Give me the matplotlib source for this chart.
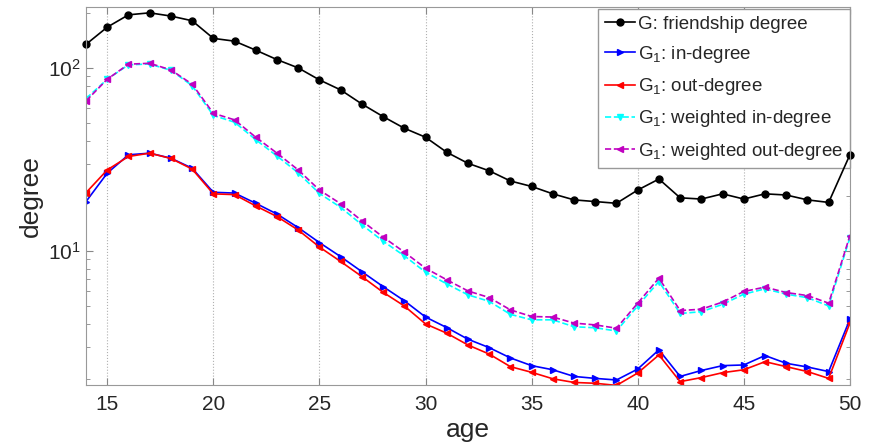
import matplotlib
matplotlib.use('Agg')
import matplotlib.pyplot as plt
from matplotlib.ticker import NullFormatter, LogLocator

plt.rcParams['font.family'] = ['Liberation Sans', 'DejaVu Sans']
plt.rcParams['mathtext.fontset'] = 'custom'
plt.rcParams['mathtext.rm'] = 'Liberation Sans'
plt.rcParams['mathtext.it'] = 'Liberation Sans:italic'
plt.rcParams['mathtext.default'] = 'regular'

# age 14..50
ages = list(range(14, 51))

friendship = [134.5, 167, 195, 200, 192, 181, 145, 140, 125, 111, 100,
              86, 75.8, 63.5, 54.2, 46.8, 41.8, 34.6, 30.1, 27.4, 24.1, 22.5,
              20.5, 19.0, 18.6, 18.2, 21.5, 24.7, 19.5, 19.2, 20.5, 19.2,
              20.5, 20.2, 19.0, 18.4, 33.5]

in_deg = [18.6, 26.6, 33.5, 34.2, 32.1, 28.3, 20.9, 20.7, 18.2, 15.9, 13.4,
          11.1, 9.3, 7.7, 6.38, 5.34, 4.35, 3.81, 3.29, 2.96, 2.6, 2.36,
          2.24, 2.06, 2.01, 1.97, 2.26, 2.88, 2.06, 2.22, 2.36, 2.38,
          2.68, 2.43, 2.32, 2.19, 4.23]

out_deg = [20.8, 27.7, 32.8, 34.2, 32.0, 28.0, 20.5, 20.3, 17.6, 15.4, 13.0,
           10.5, 8.75, 7.24, 5.94, 5.0, 3.99, 3.55, 3.06, 2.73, 2.33, 2.17,
           2.0, 1.91, 1.89, 1.84, 2.15, 2.7, 1.93, 2.03, 2.16, 2.24,
           2.48, 2.33, 2.19, 2.01, 4.03]

w_in_deg = [68, 86.7, 104, 105, 97, 80, 55, 50.5, 40.5, 33.0, 26.7,
            20.6, 17.3, 13.9, 11.3, 9.4, 7.65, 6.6, 5.75, 5.3, 4.5, 4.2,
            4.2, 3.85, 3.8, 3.65, 5.0, 6.8, 4.55, 4.65, 5.1, 5.8,
            6.2, 5.8, 5.55, 5.0, 11.8]

w_out_deg = [66, 86.7, 104.8, 106, 97.5, 81.5, 56.5, 52, 41.8, 34.2, 27.7,
             21.5, 18.1, 14.6, 11.9, 9.85, 8.04, 6.95, 6.04, 5.56, 4.76, 4.38,
             4.35, 4.03, 3.94, 3.78, 5.18, 7.1, 4.72, 4.8, 5.25, 6.0,
             6.34, 5.92, 5.7, 5.18, 12.1]

fig = plt.figure(figsize=(8.69, 4.42), dpi=100)
ax = fig.add_axes([0.099, 0.129, 0.879, 0.855])

lw = 1.2
ax.plot(ages, friendship, '-o', color='black', lw=lw, ms=5, label='G: friendship degree', clip_on=False)
ax.plot(ages, in_deg, '->', color='blue', lw=lw, ms=4.5, label='G$_1$: in-degree')
ax.plot(ages, out_deg, '-<', color='red', lw=lw, ms=4.5, label='G$_1$: out-degree')
ax.plot(ages, w_in_deg, '--v', color='cyan', lw=lw, ms=4.5, label='G$_1$: weighted in-degree')
ax.plot(ages, w_out_deg, '--<', color='#c000c0', lw=lw, ms=4.5, label='G$_1$: weighted out-degree')

ax.set_yscale('log')
ax.set_xlim(14, 50)
ax.set_ylim(1.85, 215)
ax.set_xticks(range(15, 51, 5))
ax.yaxis.set_minor_locator(LogLocator(base=10, subs=range(2, 10)))
ax.yaxis.set_minor_formatter(NullFormatter())

ax.grid(True, axis='x', linestyle=':', color='#b0b0b0', lw=0.8)
ax.tick_params(which='both', direction='in', top=True, right=True,
               colors='#888888', labelcolor='#262626', labelsize=15)
ax.tick_params(axis='x', pad=7)
ax.tick_params(which='major', length=5)
ax.tick_params(which='minor', length=3)
for s in ax.spines.values():
    s.set_color('#999999')

ax.set_xlabel('age', fontsize=19, color='#262626', labelpad=3)
ax.set_ylabel('degree', fontsize=19, color='#262626', labelpad=4)

leg = ax.legend(loc='upper right', bbox_to_anchor=(1.0, 0.995), fontsize=13.5,
                handlelength=1.6, handletextpad=0.2, borderaxespad=0,
                labelspacing=0.6, fancybox=False, framealpha=1,
                edgecolor='#999999', borderpad=0.35)
leg.set_zorder(1.5)  # lines show over the legend box, as in the original
for t in leg.get_texts():
    t.set_color('#262626')

fig.savefig('out.png', dpi=100)
